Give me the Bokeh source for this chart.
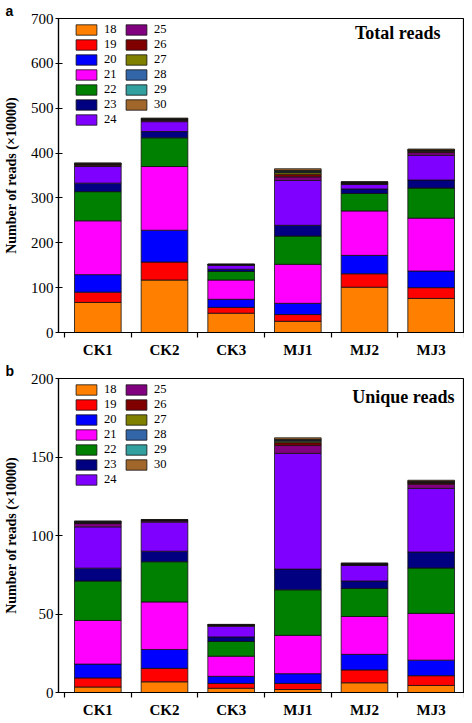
from bokeh.plotting import figure
from bokeh.models import (Range1d, FixedTicker, Legend, LegendItem, Label, Title,
                          ColumnDataSource)
from bokeh.layouts import column
from bokeh.embed import file_html
from bokeh.resources import INLINE

samples = ["CK1", "CK2", "CK3", "MJ1", "MJ2", "MJ3"]
lengths = ["18", "19", "20", "21", "22", "23", "24", "25", "26", "27", "28", "29", "30"]
colors = ["#FF8000", "#FF0000", "#0000FF", "#FF00FF", "#008000", "#000080", "#8000FF",
          "#800080", "#800000", "#808000", "#3366A8", "#33A0A0", "#A0662A"]

# Total reads (x10000)
total_18 = [67, 117, 43, 25, 101, 76]
total_19 = [23, 40, 13, 15, 30, 24]
total_20 = [39, 71, 18, 25, 41, 37]
total_21 = [120, 142, 43, 87, 99, 118]
total_22 = [65, 64, 19, 63, 39, 67]
total_23 = [19, 14, 5, 24, 10, 18]
total_24 = [37, 22, 9, 100, 10, 55]
total_25 = [3, 3, 1, 8, 2, 6]
total_26 = [2, 1.5, 0.5, 6, 1.5, 3]
total_27 = [1, 1, 0.2, 4, 0.8, 1.5]
total_28 = [0.5, 0.5, 0.1, 2, 0.5, 0.8]
total_29 = [0.5, 0.5, 0.1, 2, 0.5, 0.7]
total_30 = [1, 1.5, 0.3, 4, 0.7, 2]

# Unique reads (x10000)
unique_18 = [3.5, 6.8, 2.7, 1.9, 6.2, 4.5]
unique_19 = [5.8, 8.6, 3.1, 3.9, 8.2, 6.2]
unique_20 = [8.8, 12.0, 4.5, 6.2, 9.9, 9.9]
unique_21 = [27.8, 30.3, 12.8, 24.4, 24.1, 29.8]
unique_22 = [25.1, 25.6, 9.4, 29.0, 17.9, 28.9]
unique_23 = [8.2, 6.7, 2.9, 13.2, 4.7, 10.2]
unique_24 = [26.3, 18.5, 6.8, 73.7, 9.9, 40.5]
unique_25 = [2.1, 0.8, 0.5, 5.1, 0.6, 2.7]
unique_26 = [0.6, 0.3, 0.2, 1.7, 0.3, 0.8]
unique_27 = [0.3, 0.1, 0.1, 1.0, 0.2, 0.4]
unique_28 = [0.2, 0.1, 0.1, 0.5, 0.1, 0.3]
unique_29 = [0.2, 0.1, 0.1, 0.5, 0.1, 0.3]
unique_30 = [0.4, 0.3, 0.2, 1.1, 0.3, 0.7]

total_ticks = [0, 100, 200, 300, 400, 500, 600, 700]
unique_ticks = [0, 50, 100, 150, 200]

total_series = [total_18, total_19, total_20, total_21, total_22, total_23, total_24,
                total_25, total_26, total_27, total_28, total_29, total_30]
unique_series = [unique_18, unique_19, unique_20, unique_21, unique_22, unique_23, unique_24,
                 unique_25, unique_26, unique_27, unique_28, unique_29, unique_30]

SERIF = "Liberation Serif"
SANS = "Liberation Sans"
FRAME_W = 406
BORDER_L = 54
ITEM_H = 15
X0, X1 = 0.41, 6.5


def make_panel(series, yticks, letter, title, border_bottom, frame_h, title_x, title_y):
    xs = list(range(1, len(samples) + 1))
    data = {"x": xs}
    for name, vals in zip(lengths, series):
        data["s" + name] = vals
    src = ColumnDataSource(data)
    letter_title = Title(text=letter, align="left", offset=-(BORDER_L - 1), standoff=0,
                         text_font=SANS, text_font_style="bold", text_font_size="14px",
                         text_color="black")
    p = figure(frame_width=FRAME_W, frame_height=frame_h, title=letter_title,
               output_backend="svg", toolbar_location=None,
               x_range=Range1d(X0, X1), y_range=Range1d(yticks[0], yticks[-1]),
               min_border_left=BORDER_L, min_border_right=0, min_border_top=0,
               min_border_bottom=border_bottom)
    rs = p.vbar_stack(["s" + n for n in lengths], x="x", width=0.7, color=colors,
                      line_color="#111111", line_width=0.8, source=src)
    p.xgrid.visible = False
    p.ygrid.visible = False
    p.outline_line_color = "black"
    p.outline_line_width = 1.2
    p.background_fill_color = "white"
    p.border_fill_color = "white"

    xa = p.xaxis[0]
    xa.ticker = FixedTicker(ticks=xs, minor_ticks=[x - 0.5 for x in xs] + [xs[-1] + 0.5])
    xa.major_label_overrides = {x: s for x, s in zip(xs, samples)}
    xa.major_tick_in = 0
    xa.major_tick_out = 0
    xa.minor_tick_in = 0
    xa.minor_tick_out = 5
    xa.minor_tick_line_color = "black"
    xa.minor_tick_line_width = 1.2
    xa.axis_line_width = 1.2
    xa.major_label_text_font = SERIF
    xa.major_label_text_font_style = "bold"
    xa.major_label_text_font_size = "15px"
    xa.major_label_text_color = "black"
    xa.major_label_standoff = 4

    ya = p.yaxis[0]
    ya.ticker = FixedTicker(ticks=yticks)
    ya.major_tick_in = 4
    ya.major_tick_out = 3
    ya.major_tick_line_width = 1.2
    ya.minor_tick_line_color = None
    ya.axis_line_width = 1.2
    ya.major_label_text_font = SERIF
    ya.major_label_text_font_size = "15px"
    ya.major_label_text_color = "black"
    ya.major_label_standoff = 2
    ya.axis_label = "Number of reads (\u00d710000)"
    ya.axis_label_text_font = SERIF
    ya.axis_label_text_font_style = "bold"
    ya.axis_label_text_font_size = "14px"
    ya.axis_label_text_color = "black"
    ya.axis_label_standoff = 9

    common = dict(glyph_width=26, glyph_height=13, label_height=ITEM_H, spacing=0,
                  padding=0, margin=0, border_line_color=None, background_fill_alpha=0,
                  label_text_font=SERIF, label_text_font_size="12.5px",
                  label_text_color="black",
                  label_standoff=5, label_text_baseline="middle")
    n1 = 7
    h1 = n1 * ITEM_H
    h2 = (len(lengths) - n1) * ITEM_H
    leg1 = Legend(items=[LegendItem(label=lengths[i], renderers=[rs[i]]) for i in range(n1)],
                  location=(15, frame_h - 4 - h1), **common)
    leg2 = Legend(items=[LegendItem(label=lengths[i], renderers=[rs[i]])
                         for i in range(n1, len(lengths))],
                  location=(65, frame_h - 4 - h2), **common)
    p.add_layout(leg1, "center")
    p.add_layout(leg2, "center")

    p.add_layout(Label(x=title_x, y=title_y, text=title, text_font=SERIF,
                       text_font_style="bold", text_font_size="18px",
                       text_align="right", text_baseline="middle", text_color="black"))
    return p


top = make_panel(total_series, total_ticks, "a", "Total reads", 23, 314, 6.14, 667)
bottom = make_panel(unique_series, unique_ticks, "b", "Unique reads", 23, 314, 6.35, 188)

layout = column(top, bottom, spacing=0)
open("out.html", "w").write(file_html(layout, INLINE))
